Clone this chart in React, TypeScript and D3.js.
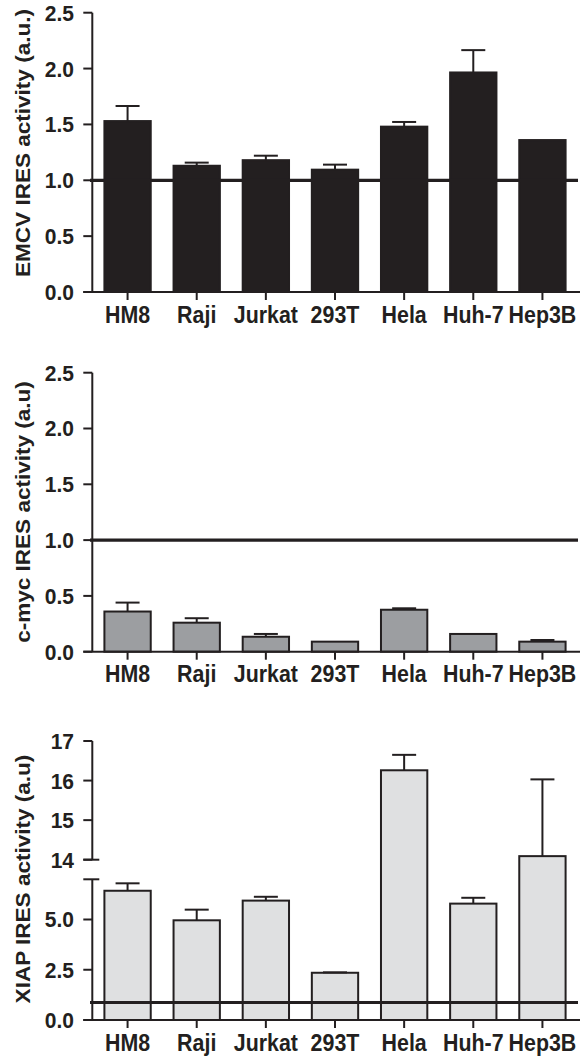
import React from 'react';
import * as d3 from 'd3';

const categories = ['HM8', 'Raji', 'Jurkat', '293T', 'Hela', 'Huh-7', 'Hep3B'];

const emcvMean = [1.53, 1.13, 1.18, 1.095, 1.48, 1.965, 1.36];
const emcvSem = [0.135, 0.028, 0.04, 0.045, 0.042, 0.2, 0];

const cmycMean = [0.36, 0.26, 0.134, 0.09, 0.376, 0.159, 0.09];
const cmycSem = [0.08, 0.04, 0.025, 0, 0.013, 0, 0.015];

const xiapMean = [6.43, 4.96, 5.94, 2.35, 16.26, 5.79, 14.09];
const xiapSem = [0.37, 0.53, 0.19, 0.02, 0.39, 0.29, 1.94];

const smallTicks = [0, 0.5, 1, 1.5, 2, 2.5];
const xiapLowerTicks = [0, 2.5, 5];
const xiapUpperTicks = [14, 15, 16, 17];

const titles = ['EMCV IRES activity (a.u.)', 'c-myc IRES activity (a.u)', 'XIAP IRES activity (a.u)'];
const refValues = [1, 1, 0.87];

const INK = '#231f20';
const FONT = '"Liberation Sans", Arial, Helvetica, sans-serif';

const AXIS_X = 92.3;
const X_LEFT = 83.3;
const X_RIGHT = 580;

const xScale = d3.scaleBand<string>().domain(categories).range([93, 577]).paddingInner(0.33).paddingOuter(0.165);

type PanelProps = {
  y: d3.ScaleLinear<number, number>;
  mean: number[];
  sem: number[];
  fill: string;
  title: string;
  titleY: number;
  refValue: number;
  axisSegments: [number, number][];
  ticks: { v: number; label: string }[];
  breakCaps?: number[];
};

function Panel({ y, mean, sem, fill, title, titleY, refValue, axisSegments, ticks, breakCaps }: PanelProps) {
  const y0 = y(0);
  const bw = xScale.bandwidth();
  return (
    <g>
      {categories.map((c, i) => {
        const x = xScale(c)!;
        const top = y(mean[i]);
        return (
          <rect key={c} x={x} y={top} width={bw} height={y0 - top} fill={fill} stroke={INK} strokeWidth={2} />
        );
      })}
      {categories.map((c, i) => {
        if (!sem[i]) return null;
        const cx = xScale(c)! + bw / 2;
        const top = y(mean[i]);
        const e = y(mean[i] + sem[i]);
        return (
          <g key={'e' + c} stroke={INK} strokeWidth={2}>
            <line x1={cx} x2={cx} y1={top} y2={e} />
            <line x1={cx - 12} x2={cx + 12} y1={e} y2={e} />
          </g>
        );
      })}
      <line x1={90} x2={578} y1={y(refValue)} y2={y(refValue)} stroke={INK} strokeWidth={3.2} />
      <line x1={X_LEFT} x2={X_RIGHT} y1={y0} y2={y0} stroke={INK} strokeWidth={2} />
      {categories.map((c) => {
        const cx = xScale(c)! + bw / 2;
        return (
          <g key={'t' + c}>
            <line x1={cx} x2={cx} y1={y0} y2={y0 + 8} stroke={INK} strokeWidth={2} />
            <text
              transform={`translate(${cx},${y0 + 30.5}) scale(1,1.1)`}
              textAnchor="middle"
              fontFamily={FONT}
              fontWeight="bold"
              fontSize={21.4}
              fill={INK}
            >
              {c}
            </text>
          </g>
        );
      })}
      {axisSegments.map(([a, b], k) => (
        <line key={'ax' + k} x1={AXIS_X} x2={AXIS_X} y1={y(a)} y2={y(b)} stroke={INK} strokeWidth={2} />
      ))}
      {ticks.map((t) => (
        <g key={'yt' + t.v}>
          <line x1={X_LEFT} x2={AXIS_X} y1={y(t.v)} y2={y(t.v)} stroke={INK} strokeWidth={2} />
          <text
            transform={`translate(74,${y(t.v)}) scale(1,1.05)`}
            dy="0.36em"
            textAnchor="end"
            fontFamily={FONT}
            fontWeight="bold"
            fontSize={21}
            fill={INK}
          >
            {t.label}
          </text>
        </g>
      ))}
      {(breakCaps || []).map((v) => (
        <line key={'bc' + v} x1={X_LEFT} x2={AXIS_X + 7} y1={y(v)} y2={y(v)} stroke={INK} strokeWidth={2} />
      ))}
      <text
        transform={`translate(29.5,${titleY}) scale(1,1.1) rotate(-90)`}
        textAnchor="middle"
        fontFamily={FONT}
        fontWeight="bold"
        fontSize={20.5}
        fill={INK}
      >
        {title}
      </text>
    </g>
  );
}

export default function App() {
  const y1 = d3.scaleLinear().domain([0, 2.5]).range([292, 12.7]);
  const y2 = d3.scaleLinear().domain([0, 2.5]).range([651.7, 372.7]);
  const y3 = d3.scaleLinear().domain([0, 7, 14, 17]).range([1020, 879.3, 859.7, 741]);
  const fmt = d3.format('.1f');
  const smallTickObjs = smallTicks.map((v) => ({ v, label: fmt(v) }));
  const xiapTickObjs = [
    ...xiapLowerTicks.map((v) => ({ v, label: fmt(v) })),
    ...xiapUpperTicks.map((v) => ({ v, label: String(v) })),
  ];
  return (
    <svg
      width={580}
      height={1056}
      viewBox="0 0 580 1056"
      style={{ position: 'absolute', left: 0, top: 0, background: '#fff' }}
    >
      <rect x={0} y={0} width={580} height={1056} fill="#fff" />
      <Panel
        y={y1}
        mean={emcvMean}
        sem={emcvSem}
        fill={INK}
        title={titles[0]}
        titleY={143}
        refValue={refValues[0]}
        axisSegments={[[0, 2.5]]}
        ticks={smallTickObjs}
      />
      <Panel
        y={y2}
        mean={cmycMean}
        sem={cmycSem}
        fill="#9c9ea1"
        title={titles[1]}
        titleY={512}
        refValue={refValues[1]}
        axisSegments={[[0, 2.5]]}
        ticks={smallTickObjs}
      />
      <Panel
        y={y3}
        mean={xiapMean}
        sem={xiapSem}
        fill="#dfe0e1"
        title={titles[2]}
        titleY={879}
        refValue={refValues[2]}
        axisSegments={[
          [0, 7],
          [14, 17],
        ]}
        ticks={xiapTickObjs}
        breakCaps={[7, 14]}
      />
    </svg>
  );
}
